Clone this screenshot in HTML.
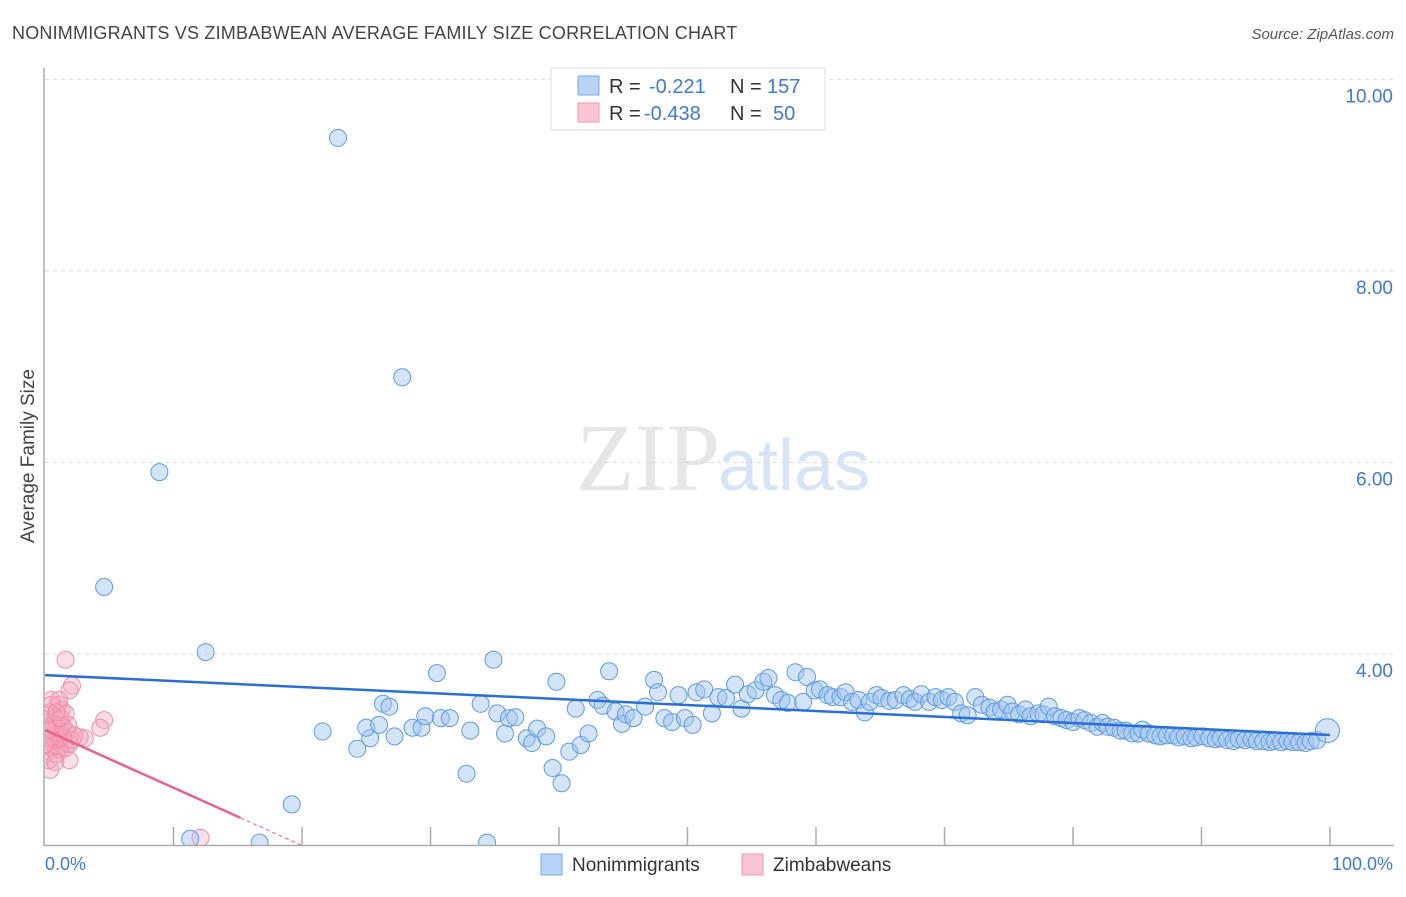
<!DOCTYPE html>
<html><head><meta charset="utf-8"><style>
body{margin:0;background:#fff;font-family:"Liberation Sans",sans-serif;}
svg text{font-family:"Liberation Sans",sans-serif;}
</style></head><body>
<svg width="1406" height="892" xmlns="http://www.w3.org/2000/svg">
<defs><clipPath id="pc"><rect x="45" y="60" width="1350" height="785"/></clipPath></defs>
<text x="12" y="39" font-size="18" fill="#444" letter-spacing="0.2">NONIMMIGRANTS VS ZIMBABWEAN AVERAGE FAMILY SIZE CORRELATION CHART</text>
<text x="1394" y="39" font-size="15" fill="#555" text-anchor="end" font-style="italic">Source: ZipAtlas.com</text>
<text x="720" y="490" font-size="96" fill="#e6e6e6" text-anchor="end" style="font-family:'Liberation Serif',serif">ZIP</text>
<text x="718" y="490" font-size="72" fill="#d6e4f6">atlas</text>
<g id="grid"></g>
<g id="axes"></g>
<g id="marks" clip-path="url(#pc)"></g>
<text x="34" y="456" font-size="19" fill="#444" text-anchor="middle" transform="rotate(-90 34 456)">Average Family Size</text>
<text x="45" y="870" font-size="18" fill="#3d7ad6">0.0%</text>
<text x="1393" y="870" font-size="18" fill="#3d7ad6" text-anchor="end">100.0%</text>
<g>
<rect x="551" y="68" width="274" height="62" fill="#fff" stroke="#ddd"/>
<rect x="578" y="76" width="21" height="19" fill="#b7d3f5" stroke="#7aa9e6"/>
<rect x="578" y="103" width="21" height="19" fill="#f9c4d3" stroke="#ef9ab3"/>
<text x="609" y="93" font-size="20" fill="#333">R = </text><text x="649" y="93" font-size="20" fill="#3d7ad6">-0.221</text>
<text x="730" y="93" font-size="20" fill="#333">N = </text><text x="767" y="93" font-size="20" fill="#3d7ad6">157</text>
<text x="609" y="120" font-size="20" fill="#333">R = </text><text x="644" y="120" font-size="20" fill="#3d7ad6">-0.438</text>
<text x="730" y="120" font-size="20" fill="#333">N = </text><text x="773" y="120" font-size="20" fill="#3d7ad6">50</text>
</g>
<g>
<rect x="541" y="854" width="21" height="21" fill="#b7d3f5" stroke="#7aa9e6"/>
<text x="572" y="871" font-size="19" fill="#333">Nonimmigrants</text>
<rect x="742" y="854" width="21" height="21" fill="#f9c4d3" stroke="#ef9ab3"/>
<text x="773" y="871" font-size="19" fill="#333">Zimbabweans</text>
</g>
</svg>
<script>
const yTicks=[4,6,8,10];
const yTickLabels=["4.00","6.00","8.00","10.00"];
const xTicks=[10,20,30,40,50,60,70,80,90,100];
const blueX=[22.8,27.8,8.9,4.6,12.5,19.2,11.3,16.7,34.4,21.6,24.3,25.3,25.0,26.0,26.3,26.8,27.2,28.6,29.3,29.6,30.5,30.8,31.5,32.8,33.1,33.9,34.9,35.2,35.8,36.1,36.6,37.5,37.9,38.3,39.0,39.5,39.8,40.2,40.8,41.3,41.7,42.3,43.0,43.4,43.9,44.4,44.9,45.2,45.8,46.7,47.4,47.7,48.2,48.8,49.3,49.8,50.4,50.7,51.3,51.9,52.4,53.0,53.7,54.2,54.7,55.3,55.9,56.3,56.8,57.3,57.8,58.4,59.0,59.3,59.9,60.3,60.9,61.3,61.9,62.3,62.8,63.3,63.8,64.2,64.7,65.1,65.7,66.2,66.8,67.3,67.7,68.2,68.8,69.3,69.8,70.3,70.8,71.3,71.8,72.4,72.9,73.5,73.9,74.4,74.9,75.3,75.8,76.3,76.7,77.3,77.7,78.1,78.6,79.1,79.5,80.0,80.5,80.9,81.4,81.9,82.3,82.7,83.2,83.7,84.1,84.6,85.1,85.4,85.9,86.4,86.8,87.3,87.8,88.2,88.7,89.2,89.6,90.1,90.6,91.1,91.5,92.0,92.5,92.9,93.4,93.9,94.3,94.8,95.3,95.7,96.2,96.7,97.1,97.6,98.1,98.5,99.0,99.8];
const blueY=[9.39,6.89,5.90,4.70,4.02,2.43,2.07,2.03,2.03,3.19,3.01,3.12,3.23,3.26,3.48,3.45,3.14,3.23,3.23,3.35,3.80,3.33,3.33,2.75,3.20,3.48,3.94,3.38,3.17,3.33,3.34,3.12,3.07,3.22,3.14,2.81,3.71,2.65,2.98,3.43,3.05,3.17,3.52,3.46,3.82,3.40,3.27,3.37,3.33,3.45,3.73,3.60,3.33,3.29,3.57,3.33,3.26,3.60,3.63,3.38,3.55,3.54,3.68,3.43,3.58,3.62,3.71,3.75,3.57,3.52,3.49,3.81,3.50,3.76,3.62,3.63,3.57,3.55,3.55,3.60,3.50,3.52,3.39,3.50,3.57,3.54,3.51,3.52,3.57,3.53,3.50,3.58,3.50,3.55,3.52,3.55,3.50,3.38,3.36,3.55,3.47,3.44,3.40,3.42,3.47,3.40,3.37,3.42,3.35,3.38,3.37,3.45,3.35,3.33,3.31,3.29,3.33,3.31,3.28,3.24,3.28,3.24,3.23,3.20,3.20,3.17,3.17,3.21,3.17,3.15,3.14,3.15,3.15,3.13,3.14,3.12,3.13,3.14,3.12,3.11,3.12,3.10,3.09,3.11,3.10,3.11,3.09,3.09,3.08,3.09,3.08,3.09,3.08,3.08,3.07,3.09,3.10,3.20];
const pinkX=[1.6,2.1,1.9,0.5,1.0,1.3,0.4,1.6,0.8,1.8,0.2,1.2,4.6,4.3,3.1,0.5,0.9,1.3,0.8,0.4,1.0,1.5,1.9,0.5,1.2,0.2,0.9,1.6,1.9,0.4,0.6,1.2,0.3,0.9,1.4,0.7,0.1,0.5,1.1,1.7,2.1,0.0,0.2,1.2,0.9,12.1,2.3,2.7,0.3,0.8];
const pinkY=[3.94,3.67,3.62,3.52,3.47,3.42,3.39,3.38,3.33,3.26,3.29,3.25,3.31,3.23,3.12,3.21,3.17,3.15,3.10,3.08,3.05,3.08,3.06,3.02,3.00,2.98,2.95,3.02,2.89,2.79,3.15,3.12,3.12,3.23,3.24,3.27,3.36,3.47,3.52,3.19,3.10,3.05,3.21,3.33,3.39,2.08,3.15,3.13,2.89,2.87];
const blueTrend=[3.78,3.154];
const pinkTrend=[3.206,-0.0603];
const NS="http://www.w3.org/2000/svg";
const xs=p=>45+p*12.85;
const ys=v=>845.5-(v-2)*95.75;
function mk(tag,attrs,parent){const e=document.createElementNS(NS,tag);for(const k in attrs)e.setAttribute(k,attrs[k]);parent.appendChild(e);return e;}
const grid=document.getElementById('grid'),axes=document.getElementById('axes'),marks=document.getElementById('marks');
yTicks.forEach((t,i)=>{
  const l=mk('line',{x1:45,x2:1394,y1:ys(t),y2:ys(t),stroke:'#dcdcdc','stroke-dasharray':'4,4'},grid);
  
  
  const tx=mk('text',{x:1393,y:ys(t)+23,'font-size':19,fill:'#3d7ad6','text-anchor':'end'},axes);
  tx.textContent=yTickLabels[i];
  
  
});
const la=mk('line',{x1:44,x2:44,y1:68,y2:846,stroke:'#aaa','stroke-width':1.5},axes);


const ba=mk('line',{x1:44,x2:1394,y1:845.5,y2:845.5,stroke:'#aaa','stroke-width':1.5},axes);


xTicks.forEach(t=>{
  const l=mk('line',{x1:xs(t),x2:xs(t),y1:827,y2:845,stroke:'#aaa','stroke-width':1.5},axes);
  
  
});
pinkX.forEach((p,i)=>{
  const c=mk('circle',{cx:xs(p),cy:ys(pinkY[i]),r:8.5,fill:'rgba(245,160,185,0.35)',stroke:'#ef8fab','stroke-width':1},marks);
  
  
});
blueX.forEach((p,i)=>{
  const c=mk('circle',{cx:xs(p),cy:ys(blueY[i]),r:i===blueX.length-1?12:8.5,fill:'rgba(160,196,240,0.45)',stroke:'#5d9be2','stroke-width':1},marks);
  
  
});
const bt=mk('line',{x1:xs(0),y1:ys(blueTrend[0]),x2:xs(100),y2:ys(blueTrend[1]),stroke:'#2a6fd6','stroke-width':2.5},marks);


const pEnd=15.2,pZero=(2-pinkTrend[0])/pinkTrend[1];
const pt=mk('line',{x1:xs(0),y1:ys(pinkTrend[0]),x2:xs(pEnd),y2:ys(pinkTrend[0]+pinkTrend[1]*pEnd),stroke:'#e8638b','stroke-width':2.5},marks);


const pd=mk('line',{x1:xs(pEnd),y1:ys(pinkTrend[0]+pinkTrend[1]*pEnd),x2:xs(pZero),y2:ys(2),stroke:'#e8638b','stroke-width':1,'stroke-dasharray':'4,3'},marks);


</script>
</body></html>
